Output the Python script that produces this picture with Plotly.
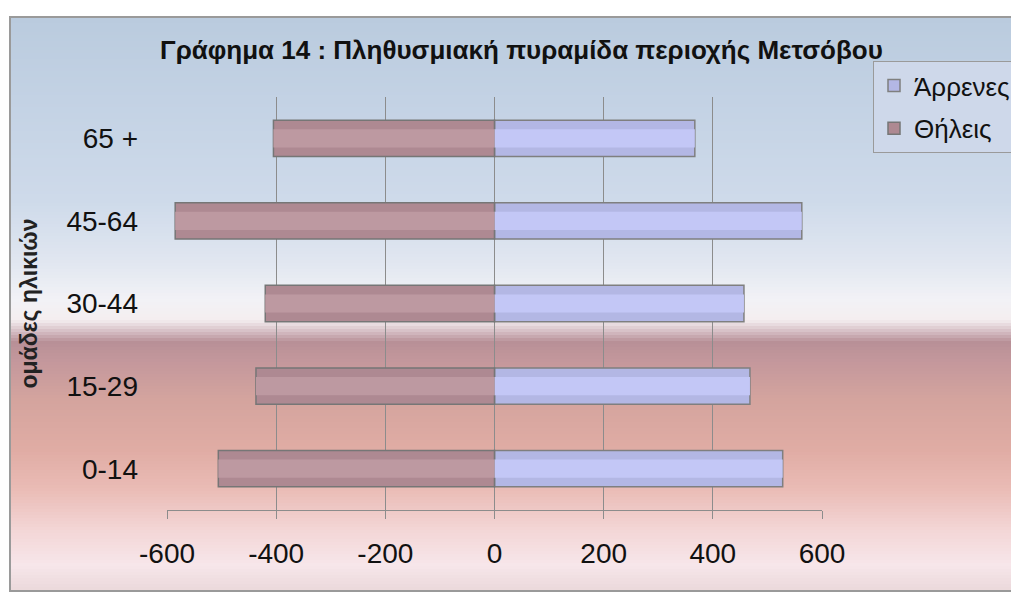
import plotly.graph_objects as go

# ---- data ----
age_groups = ["0-14", "15-29", "30-44", "45-64", "65 +"]
males = [528, 468, 457, 563, 367]      # Άρρενες (right side)
females = [506, 437, 420, 585, 405]    # Θήλεις (left side, drawn negative)
x_ticks = [-600, -400, -200, 0, 200, 400, 600]
x_tick_labels = ["-600", "-400", "-200", "0", "200", "400", "600"]

title_text = "Γράφημα 14 : Πληθυσμιακή πυραμίδα περιοχής Μετσόβου"
y_title = "ομάδες ηλικιών"

OFF = 8                      # page body margin
W, H = 1019 - OFF, 597 - OFF
# plot-area box in screenshot pixels
SL, SR, ST, SB = 167, 822, 97, 510
PL, PR, PT, PB = SL - OFF, SR - OFF, ST - OFF, SB - OFF

def px_x(sx):
    return (sx - SL) / (SR - SL)

def px_y(sy):
    return (SB - sy) / (SB - ST)

FONT = "Liberation Sans, Arial, sans-serif"
fig = go.Figure()
# base bars
fig.add_trace(go.Bar(
    y=age_groups, x=males, orientation="h", name="Άρρενες", width=0.44,
    marker=dict(color="#b3b7e4", line=dict(color="#7f7f7f", width=1.5)),
    legendgroup="m",
))
fig.add_trace(go.Bar(
    y=age_groups, x=[-v for v in females], orientation="h", name="Θήλεις", width=0.44,
    marker=dict(color="#ae8992", line=dict(color="#767676", width=1.5)),
    legendgroup="f",
))
# lighter centre band (cylinder shading)
fig.add_trace(go.Bar(
    y=age_groups, x=males, orientation="h", width=0.22, showlegend=False,
    marker=dict(color="#c3c7f6", line=dict(width=0)), hoverinfo="skip", legendgroup="m",
))
fig.add_trace(go.Bar(
    y=age_groups, x=[-v for v in females], orientation="h", width=0.22, showlegend=False,
    marker=dict(color="#bd99a1", line=dict(width=0)), hoverinfo="skip", legendgroup="f",
))

# ---- gradient background (chart frame) ----
stops = [
    (17, (186, 203, 222)),
    (100, (195, 210, 228)),
    (200, (206, 218, 234)),
    (260, (224, 230, 240)),
    (300, (242, 242, 246)),
    (320, (244, 238, 240)),
    (332, (212, 188, 194)),
    (342, (184, 144, 151)),
    (362, (196, 152, 156)),
    (400, (212, 164, 158)),
    (450, (224, 172, 164)),
    (490, (234, 188, 182)),
    (530, (243, 214, 214)),
    (565, (247, 230, 234)),
    (592, (234, 216, 218)),
]

def color_at(sy):
    for (y0, c0), (y1, c1) in zip(stops[:-1], stops[1:]):
        if y0 <= sy <= y1:
            t = (sy - y0) / (y1 - y0) if y1 > y0 else 0
            return "rgb(%d,%d,%d)" % tuple(round(a + (b - a) * t) for a, b in zip(c0, c1))
    return "rgb(%d,%d,%d)" % stops[-1][1]

shapes = []
step = 3
sy = 17
while sy < 592:
    y2 = min(sy + step, 592)
    shapes.append(dict(
        type="rect", xref="paper", yref="paper", layer="below",
        x0=px_x(10), x1=px_x(1030), y0=px_y(y2), y1=px_y(sy),
        fillcolor=color_at(sy + step / 2), line=dict(width=0),
    ))
    sy = y2
shapes.append(dict(
    type="rect", xref="paper", yref="paper", layer="below",
    x0=px_x(10), x1=px_x(1040), y0=px_y(591), y1=px_y(17),
    fillcolor="rgba(0,0,0,0)", line=dict(color="#9a9a9a", width=2),
))

fig.update_layout(
    width=W, height=H,
    margin=dict(l=PL, r=W - PR, t=PT, b=H - PB, autoexpand=False),
    paper_bgcolor="white",
    plot_bgcolor="rgba(0,0,0,0)",
    barmode="overlay",
    shapes=shapes,
    showlegend=True,
    title=dict(
        text=title_text, x=(160 - OFF) / W, xanchor="left", xref="container",
        y=1 - (41 - OFF) / H, yanchor="top", yref="container",
        font=dict(family=FONT, size=26, color="#111111", weight="bold"),
    ),
    legend=dict(
        x=px_x(873), y=px_y(61), xanchor="left", yanchor="top",
        bgcolor="rgb(206,216,234)", bordercolor="#9a9a9a", borderwidth=1,
        font=dict(family=FONT, size=26, color="#111111"),
        traceorder="grouped", tracegroupgap=6,
    ),
    font=dict(family=FONT, color="#111111"),
)

fig.update_xaxes(
    range=[-600, 600], tickvals=x_ticks, ticktext=x_tick_labels,
    showgrid=True, gridcolor="#8c8c8c", gridwidth=1,
    zeroline=True, zerolinecolor="#8c8c8c", zerolinewidth=1,
    showline=True, linecolor="#8c8c8c", linewidth=1,
    ticks="outside", ticklen=8, tickcolor="#8c8c8c",
    tickfont=dict(size=28, color="#111111"),
    ticklabelstandoff=10,
)
fig.update_yaxes(
    categoryorder="array", categoryarray=age_groups,
    showgrid=False, showline=False,
    ticks="", tickfont=dict(size=28, color="#111111"),
    ticklabelstandoff=28,
    title=dict(text=y_title, standoff=22,
               font=dict(size=23, color="#222222", family=FONT, weight="bold")),
)

fig.write_html("out.html")
